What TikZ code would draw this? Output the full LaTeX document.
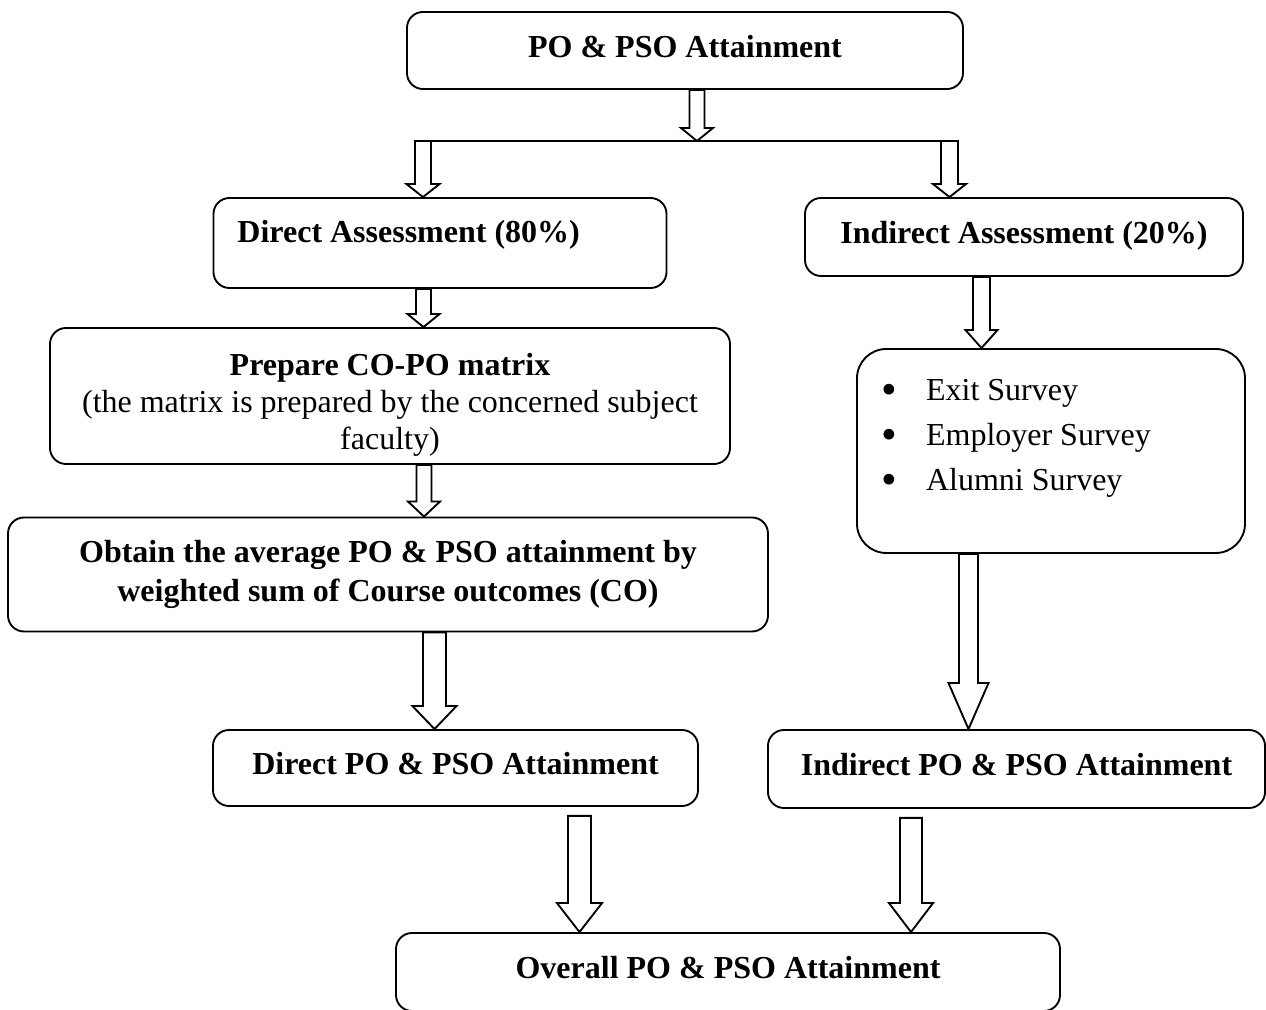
\documentclass[tikz,border=0pt]{standalone}
\usepackage{fontspec}
\setmainfont{Liberation Serif}
\usetikzlibrary{calc}
\newcommand{\blockarrow}[6]{%
  \draw[hollow] ($(#1,0 |- #2)+(-#4,0)$) -- ($(#1,0 |- #3)+(-#4,-#6)$)
    -- ($(#1,0 |- #3)+(-#5,-#6)$) -- (#1,0 |- #3) -- ($(#1,0 |- #3)+(#5,-#6)$)
    -- ($(#1,0 |- #3)+(#4,-#6)$) -- ($(#1,0 |- #2)+(#4,0)$) -- cycle;}
\newcommand{\surveyitem}[1]{\makebox[127.5pt][l]{\makebox[16.9pt][l]{\raisebox{-1.5pt}{\scalebox{1.4}{\textbullet}}}#1}}

\begin{document}
\begin{tikzpicture}[x=0.375pt,y=-0.375pt,
  stage/.style={draw,line width=0.7pt,rounded corners=6pt,align=center,inner sep=0pt,
    font=\fontsize{12}{13.9}\selectfont\bfseries,text height=9pt,text depth=4pt},
  detail/.style={draw,line width=0.7pt,rounded corners=6pt,align=center,inner sep=0pt,
    font=\fontsize{12}{13.9}\selectfont},
  survey/.style={draw,line width=0.7pt,rounded corners=11pt,align=left,inner sep=0pt,
    font=\fontsize{12}{16.9}\selectfont},
  hollow/.style={draw,fill=white,line width=0.7pt,line join=miter},
  fork/.style={line width=0.7pt}]
  \clip (0,0) rectangle (1266,1010);
  \node[stage,minimum width=208.5pt,minimum height=28.9pt] (top) at (685,50.5) {PO \& PSO Attainment};
  \node[stage,text depth=9pt,minimum width=169.9pt,minimum height=33.75pt] (direct) at (440,243)
    {\makebox[151.9pt][l]{Direct Assessment (80\%)}};
  \node[stage,minimum width=164.25pt,minimum height=29.25pt] (indirect) at (1024,237) {Indirect Assessment (20\%)};
  \node[detail,minimum width=255pt,minimum height=51pt] (prepare) at (390,396)
    {\rule{0pt}{15pt}\textbf{Prepare CO-PO matrix}\\(the matrix is prepared by the concerned subject\\faculty)};
  \node[detail,font=\fontsize{12}{14.3}\selectfont\bfseries,minimum width=285pt,minimum height=42.75pt]
    (obtain) at (388,574.5) {Obtain the average PO \& PSO attainment by\\weighted sum of Course outcomes (CO)};
  \node[survey,minimum width=145.5pt,minimum height=76.5pt] (surveys) at (1051,451)
    {\surveyitem{Exit Survey}\\
     \surveyitem{Employer Survey}\\
     \surveyitem{Alumni Survey}\rule[-12.2pt]{0pt}{1pt}};
  \node[stage,minimum width=181.9pt,minimum height=28.5pt] (directpo) at (455.5,768) {Direct PO \& PSO Attainment};
  \node[stage,minimum width=186.4pt,minimum height=29.25pt] (indirectpo) at (1016.5,769) {Indirect PO \& PSO Attainment};
  \node[stage,minimum width=249pt,minimum height=29.25pt] (overall) at (728,972) {Overall PO \& PSO Attainment};
  \coordinate (fork) at (697,141);
  \coordinate (forkl) at (415,141);
  \coordinate (forkr) at (958,141);
  \coordinate (dgap) at ($(directpo.south)+(0,9)$);
  \coordinate (igap) at ($(indirectpo.south)+(0,9)$);
  \draw[fork] (forkl) -- (forkr);
  \blockarrow{697}{top.south}{fork}{7.5}{16}{13}
  \blockarrow{423}{fork}{direct.north}{8}{16.5}{13}
  \blockarrow{949.5}{fork}{indirect.north}{8.5}{16.5}{13}
  \blockarrow{423.5}{direct.south}{prepare.north}{7.5}{16}{13}
  \blockarrow{424}{prepare.south}{obtain.north}{7.5}{16}{15}
  \blockarrow{434.5}{obtain.south}{directpo.north}{11.5}{22}{23}
  \blockarrow{981.5}{indirect.south}{surveys.north}{8.5}{16}{18}
  \blockarrow{968.5}{surveys.south}{indirectpo.north}{9.5}{20}{46}
  \blockarrow{579.5}{dgap}{overall.north}{11.5}{22.5}{29}
  \blockarrow{911}{igap}{overall.north}{11}{22}{29}
\end{tikzpicture}
\end{document}
